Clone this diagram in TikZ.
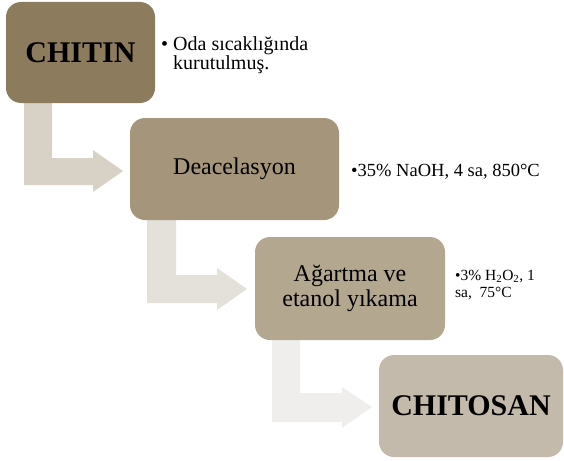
\documentclass[tikz,border=0pt]{standalone}
\usepackage{fontspec}
\setmainfont{Liberation Serif}

\definecolor{chitinbrown}{RGB}{140,123,93}
\definecolor{deacelbrown}{RGB}{165,149,122}
\definecolor{bleachbrown}{RGB}{179,167,144}
\definecolor{chitosanbrown}{RGB}{196,186,172}
\definecolor{arrowone}{RGB}{216,209,198}
\definecolor{arrowtwo}{RGB}{228,224,218}
\definecolor{arrowthree}{RGB}{239,238,236}

\tikzset{
    stepbox/.style={rounded corners=15pt, inner sep=0pt, align=center, text=black},
    note/.style={inner sep=0pt, align=left, text=black}
}

\begin{document}
\begin{tikzpicture}[x=1pt, y=-1pt]
        \useasboundingbox (0,0) rectangle (564,460);

        % bent arrows, drawn first so the boxes cover their tails
        \fill[arrowone] (24,95) -- (52,95) -- (52,158) -- (93,158) -- (93,150) -- (123,171)
            -- (93,192) -- (93,185) -- (24,185) -- cycle;
        \fill[arrowtwo] (147,212) -- (176,212) -- (176,275) -- (217,275) -- (217,268) -- (247,289)
            -- (217,310) -- (217,303) -- (147,303) -- cycle;
        \fill[arrowthree] (272,332) -- (300,332) -- (300,393) -- (342,393) -- (342,387) -- (372,407)
            -- (342,428) -- (342,422) -- (272,422) -- cycle;

        % process steps
        \node[stepbox, fill=chitinbrown, minimum width=149pt, minimum height=101pt,
            font=\fontsize{30}{32}\selectfont\bfseries] (chitin) at (80.5,52.5) {CHITIN};
        \node[stepbox, fill=deacelbrown, minimum width=209pt, minimum height=102pt,
            font=\fontsize{24}{26}\selectfont] (deacel) at (234.5,169) {Deacelasyon};
        \node[stepbox, fill=bleachbrown, minimum width=190pt, minimum height=103pt,
            font=\fontsize{24}{25}\selectfont] (bleach) at (350,288.5) {Ağartma ve\\etanol yıkama};
        \node[stepbox, fill=chitosanbrown, minimum width=184pt, minimum height=102pt,
            font=\fontsize{30}{32}\selectfont\bfseries] (chitosan) at (471,406) {CHITOSAN};

        % conditions of each step
        \node[note, anchor=west, font=\fontsize{20}{17}\selectfont] (chitinnote) at (161,55)
            {\textbullet\ Oda sıcaklığında\\\phantom{\textbullet\ }kurutulmuş.};
        \node[note, anchor=base west, font=\fontsize{18.5}{20}\selectfont] (deacelnote) at (351,176)
            {\textbullet 35\% NaOH, 4 sa, 850°C};
        \node[note, anchor=west, font=\fontsize{15.5}{17}\selectfont] (bleachnote) at (455,285)
            {\textbullet 3\% H\textsubscript{2}O\textsubscript{2}, 1\\sa,\ \ 75°C};
    \end{tikzpicture}
\end{document}
